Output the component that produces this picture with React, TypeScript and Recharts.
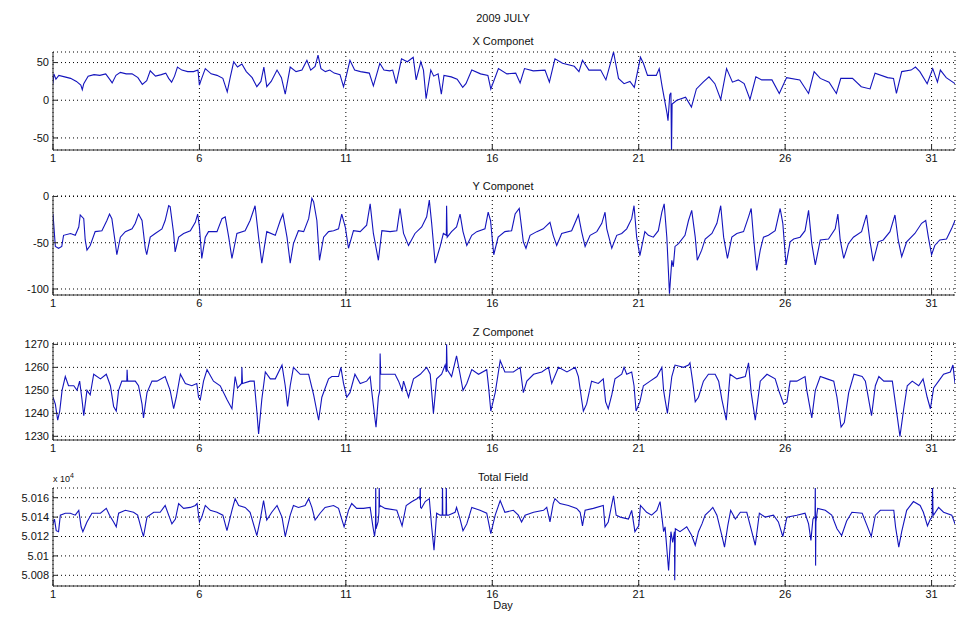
import React from 'react';
import { LineChart, Line, XAxis, YAxis, CartesianGrid } from 'recharts';

const FONT = '"Liberation Sans", Arial, Helvetica, sans-serif';

const dayTicks = [1, 6, 11, 16, 21, 26, 31];
const xTicks = [-50, 0, 50];
const yTicks = [-100, -50, 0];
const zTicks = [1230, 1240, 1250, 1260, 1270];
const fTicks = [50080, 50100, 50120, 50140, 50160];

// [day, nT]
const xComponent: [number, number][] = [
  [1.0, 22], [1.03, 35], [1.1, 28], [1.2, 33], [1.4, 31], [1.6, 29], [1.8, 25], [1.95, 20], [2.0, 14], [2.05, 22],
  [2.2, 32], [2.4, 34], [2.6, 33], [2.8, 35], [2.95, 27], [3.02, 23], [3.15, 33], [3.3, 37], [3.5, 35], [3.7, 35],
  [3.9, 30], [4.05, 21], [4.2, 26], [4.32, 39], [4.5, 32], [4.7, 34], [4.85, 36], [4.95, 29], [5.05, 24], [5.15, 32],
  [5.25, 44], [5.4, 40], [5.6, 38], [5.8, 38], [5.95, 40], [6.0, 20], [6.05, 26], [6.2, 42], [6.4, 35], [6.6, 33],
  [6.8, 29], [6.95, 11], [7.05, 30], [7.17, 51], [7.3, 44], [7.45, 48], [7.6, 38], [7.8, 30], [7.96, 18], [8.1, 25],
  [8.2, 44], [8.3, 18], [8.45, 25], [8.65, 40], [8.8, 30], [8.93, 8], [9.1, 44], [9.3, 38], [9.5, 40], [9.67, 53],
  [9.8, 40], [9.95, 45], [10.05, 60], [10.15, 42], [10.3, 38], [10.45, 40], [10.6, 36], [10.8, 34], [10.92, 18], [11.0, 30],
  [11.14, 53], [11.3, 40], [11.5, 38], [11.8, 36], [11.94, 19], [12.16, 49], [12.3, 40], [12.5, 39], [12.6, 40], [12.72, 22],
  [12.9, 55], [13.1, 51], [13.3, 57], [13.4, 27], [13.56, 51], [13.65, 40], [13.74, 2], [13.9, 40], [14.0, 32], [14.15, 35],
  [14.26, 8], [14.35, 33], [14.6, 31], [14.8, 28], [14.99, 17], [15.1, 22], [15.3, 40], [15.6, 35], [15.85, 33], [15.95, 15],
  [16.21, 42], [16.5, 35], [16.8, 36], [16.95, 23], [17.1, 42], [17.4, 39], [17.8, 40], [17.95, 24], [18.14, 55], [18.4, 49],
  [18.8, 45], [18.96, 38], [19.08, 53], [19.3, 40], [19.7, 40], [19.88, 27], [20.14, 64], [20.31, 29], [20.5, 22], [20.7, 25],
  [20.85, 17], [21.06, 57], [21.16, 49], [21.3, 33], [21.6, 33], [21.7, 42], [21.8, 18], [21.97, -18], [22.0, -27], [22.06, 7],
  [22.1, 10], [22.12, -70], [22.14, -5], [22.3, 0], [22.6, 4], [22.8, -9], [22.97, 15], [23.2, 24], [23.4, 31], [23.6, 22],
  [23.8, 1], [24.0, 42], [24.2, 24], [24.4, 27], [24.6, 22], [24.8, 1], [25.0, 31], [25.2, 27], [25.55, 27], [25.8, 9],
  [26.05, 30], [26.5, 27], [26.8, 9], [26.99, 38], [27.2, 29], [27.5, 24], [27.75, 9], [27.9, 29], [28.3, 29], [28.6, 18],
  [28.9, 15], [29.07, 36], [29.5, 30], [29.7, 29], [29.8, 9], [29.98, 38], [30.3, 40], [30.45, 44], [30.6, 38], [30.85, 22],
  [31.04, 42], [31.2, 24], [31.3, 40], [31.5, 30], [31.8, 22],
];

const yComponent: [number, number][] = [
  [1.0, -19], [1.08, -54], [1.19, -56], [1.3, -54], [1.36, -42], [1.6, -40], [1.76, -42], [1.88, -33], [1.93, -20], [2.05, -24],
  [2.1, -47], [2.16, -58], [2.27, -53], [2.44, -38], [2.67, -37], [2.84, -26], [2.93, -19], [3.01, -24], [3.13, -51], [3.18, -63],
  [3.3, -44], [3.47, -38], [3.7, -35], [3.81, -29], [3.92, -19], [4.04, -26], [4.15, -56], [4.2, -63], [4.32, -44], [4.49, -40],
  [4.72, -35], [4.83, -26], [4.95, -10], [5.0, -11], [5.12, -40], [5.17, -60], [5.29, -44], [5.46, -40], [5.69, -37], [5.86, -28],
  [5.94, -19], [6.0, -33], [6.08, -67], [6.2, -44], [6.31, -38], [6.6, -38], [6.77, -24], [6.88, -22], [7.0, -44], [7.11, -67],
  [7.28, -40], [7.56, -37], [7.73, -26], [7.9, -10], [8.02, -44], [8.13, -72], [8.3, -38], [8.59, -42], [8.76, -26], [8.85, -19],
  [8.99, -44], [9.1, -72], [9.21, -51], [9.38, -37], [9.56, -38], [9.73, -24], [9.84, -2], [9.9, -6], [10.01, -26], [10.1, -69],
  [10.24, -44], [10.41, -38], [10.58, -37], [10.75, -35], [10.86, -19], [10.98, -33], [11.09, -56], [11.26, -37], [11.49, -38], [11.71, -31],
  [11.83, -8], [11.94, -40], [12.11, -69], [12.23, -37], [12.51, -38], [12.74, -37], [12.85, -13], [12.97, -40], [13.14, -53], [13.36, -40],
  [13.59, -33], [13.76, -22], [13.85, -4], [13.93, -29], [14.05, -72], [14.22, -54], [14.33, -40], [14.43, -42], [14.44, -10], [14.46, -44],
  [14.61, -38], [14.78, -33], [14.9, -19], [15.0, -38], [15.13, -53], [15.3, -42], [15.47, -38], [15.75, -35], [15.86, -17], [15.94, -26],
  [16.05, -63], [16.2, -44], [16.43, -38], [16.66, -37], [16.78, -19], [16.92, -13], [17.06, -49], [17.15, -56], [17.29, -42], [17.52, -38],
  [17.74, -35], [17.97, -28], [18.08, -42], [18.2, -53], [18.37, -40], [18.71, -37], [18.94, -20], [19.05, -38], [19.17, -54], [19.34, -42],
  [19.57, -38], [19.74, -29], [19.85, -17], [19.91, -35], [20.08, -56], [20.25, -42], [20.42, -40], [20.59, -35], [20.76, -24], [20.84, -10],
  [20.93, -44], [21.04, -64], [21.21, -38], [21.33, -42], [21.5, -44], [21.67, -37], [21.79, -17], [21.87, -8], [21.96, -44], [22.05, -105],
  [22.13, -69], [22.18, -76], [22.24, -54], [22.36, -51], [22.58, -42], [22.7, -26], [22.81, -15], [22.93, -44], [23.0, -69], [23.15, -58],
  [23.27, -46], [23.5, -40], [23.67, -29], [23.8, -10], [23.9, -44], [24.03, -67], [24.18, -44], [24.35, -40], [24.58, -38], [24.75, -22],
  [24.84, -13], [24.92, -44], [25.03, -80], [25.15, -58], [25.26, -44], [25.43, -42], [25.66, -37], [25.83, -13], [25.92, -29], [26.03, -74],
  [26.17, -49], [26.29, -46], [26.51, -44], [26.68, -37], [26.8, -15], [26.91, -51], [27.03, -74], [27.2, -47], [27.48, -46], [27.71, -35],
  [27.8, -19], [27.88, -47], [28.0, -67], [28.16, -51], [28.33, -44], [28.61, -38], [28.78, -20], [28.9, -49], [29.01, -70], [29.18, -49],
  [29.35, -47], [29.58, -38], [29.75, -20], [29.86, -47], [29.98, -65], [30.15, -49], [30.43, -40], [30.66, -29], [30.8, -26], [30.89, -44],
  [31.0, -63], [31.11, -53], [31.28, -47], [31.51, -46], [31.68, -35], [31.8, -26],
];

const zComponent: [number, number][] = [
  [1.0, 1247], [1.08, 1244], [1.16, 1237], [1.23, 1241], [1.31, 1250], [1.42, 1256], [1.53, 1252], [1.71, 1252], [1.82, 1250], [1.91, 1254],
  [1.99, 1246], [2.05, 1239], [2.16, 1250], [2.27, 1248], [2.39, 1257], [2.62, 1255], [2.82, 1257], [2.96, 1252], [3.07, 1243], [3.16, 1241],
  [3.24, 1250], [3.35, 1254], [3.52, 1254], [3.53, 1259], [3.55, 1254], [3.81, 1254], [3.92, 1252], [4.04, 1244], [4.09, 1238], [4.21, 1249],
  [4.38, 1254], [4.55, 1254], [4.83, 1256], [5.0, 1250], [5.12, 1242], [5.21, 1247], [5.35, 1257], [5.52, 1253], [5.74, 1252], [5.91, 1253],
  [5.97, 1247], [6.03, 1246], [6.14, 1254], [6.26, 1259], [6.48, 1254], [6.71, 1252], [6.94, 1246], [7.11, 1242], [7.22, 1256], [7.3, 1251],
  [7.44, 1253], [7.45, 1260], [7.47, 1253], [7.73, 1254], [7.87, 1254], [7.96, 1241], [8.02, 1231], [8.13, 1246], [8.25, 1258], [8.42, 1255],
  [8.59, 1255], [8.82, 1261], [8.93, 1252], [9.01, 1243], [9.1, 1252], [9.21, 1260], [9.44, 1257], [9.73, 1257], [9.9, 1248], [10.07, 1237],
  [10.18, 1247], [10.41, 1255], [10.52, 1256], [10.75, 1256], [10.83, 1260], [10.92, 1253], [11.03, 1247], [11.14, 1249], [11.31, 1257], [11.49, 1253],
  [11.71, 1254], [11.83, 1256], [11.88, 1250], [12.0, 1237], [12.03, 1234], [12.11, 1247], [12.16, 1250], [12.17, 1266], [12.19, 1257], [12.51, 1257],
  [12.68, 1257], [12.8, 1254], [12.92, 1250], [12.97, 1254], [13.14, 1247], [13.31, 1255], [13.54, 1257], [13.76, 1260], [13.88, 1257], [13.99, 1240],
  [14.1, 1255], [14.27, 1257], [14.39, 1261], [14.43, 1258], [14.44, 1270], [14.46, 1259], [14.61, 1256], [14.78, 1265], [14.9, 1257], [15.0, 1250],
  [15.13, 1253], [15.3, 1259], [15.53, 1257], [15.81, 1259], [15.87, 1252], [15.95, 1241], [16.1, 1249], [16.27, 1263], [16.43, 1258], [16.72, 1258],
  [16.95, 1260], [17.06, 1249], [17.18, 1254], [17.41, 1257], [17.69, 1258], [17.92, 1260], [18.03, 1253], [18.26, 1260], [18.55, 1258], [18.83, 1260],
  [18.94, 1256], [19.05, 1246], [19.11, 1241], [19.22, 1244], [19.39, 1254], [19.62, 1253], [19.79, 1255], [19.87, 1245], [19.96, 1242], [20.08, 1248],
  [20.19, 1255], [20.42, 1257], [20.5, 1260], [20.59, 1257], [20.76, 1258], [20.84, 1252], [20.91, 1241], [21.04, 1245], [21.16, 1252], [21.39, 1254],
  [21.62, 1256], [21.79, 1260], [21.85, 1250], [21.9, 1246], [21.98, 1240], [22.13, 1256], [22.24, 1261], [22.53, 1260], [22.7, 1261], [22.75, 1262],
  [22.84, 1254], [22.93, 1245], [23.04, 1247], [23.21, 1254], [23.38, 1257], [23.61, 1257], [23.73, 1254], [23.84, 1246], [23.99, 1237], [24.12, 1257],
  [24.35, 1255], [24.64, 1256], [24.75, 1262], [24.84, 1249], [24.98, 1237], [25.15, 1254], [25.38, 1257], [25.66, 1255], [25.78, 1250], [25.95, 1244],
  [26.06, 1245], [26.17, 1254], [26.4, 1254], [26.68, 1256], [26.74, 1250], [26.91, 1238], [27.03, 1250], [27.2, 1256], [27.43, 1255], [27.66, 1254],
  [27.77, 1247], [27.91, 1234], [28.02, 1236], [28.17, 1249], [28.35, 1257], [28.63, 1256], [28.74, 1254], [28.95, 1239], [29.08, 1252], [29.2, 1256],
  [29.37, 1254], [29.66, 1254], [29.77, 1244], [29.92, 1230], [30.05, 1242], [30.17, 1252], [30.34, 1254], [30.56, 1252], [30.71, 1255], [30.85, 1247],
  [30.96, 1242], [31.07, 1251], [31.24, 1254], [31.41, 1257], [31.64, 1258], [31.73, 1261], [31.8, 1253],
];

const totalField: [number, number][] = [
  [1.0, 50133], [1.05, 50138], [1.11, 50126], [1.19, 50125], [1.25, 50142], [1.42, 50144], [1.59, 50144], [1.76, 50142], [1.88, 50147], [1.96, 50130],
  [2.02, 50125], [2.16, 50135], [2.33, 50144], [2.62, 50144], [2.82, 50149], [2.93, 50142], [3.07, 50135], [3.16, 50130], [3.24, 50144], [3.47, 50147],
  [3.75, 50145], [3.89, 50142], [4.04, 50125], [4.09, 50120], [4.21, 50140], [4.44, 50145], [4.66, 50145], [4.83, 50152], [4.95, 50142], [5.06, 50133],
  [5.18, 50138], [5.29, 50154], [5.46, 50149], [5.69, 50150], [5.86, 50152], [5.92, 50154], [6.0, 50135], [6.08, 50140], [6.2, 50152], [6.37, 50147],
  [6.6, 50145], [6.8, 50142], [6.94, 50126], [7.11, 50147], [7.22, 50159], [7.34, 50152], [7.56, 50150], [7.73, 50145], [7.96, 50121], [8.08, 50138],
  [8.19, 50157], [8.3, 50137], [8.47, 50145], [8.65, 50152], [8.82, 50140], [8.93, 50120], [9.1, 50142], [9.21, 50152], [9.38, 50150], [9.61, 50152],
  [9.73, 50159], [9.84, 50150], [9.95, 50137], [10.12, 50144], [10.29, 50150], [10.58, 50152], [10.75, 50149], [10.86, 50138], [10.94, 50130], [11.09, 50147],
  [11.2, 50154], [11.37, 50149], [11.6, 50149], [11.83, 50150], [11.92, 50131], [11.98, 50120], [12.01, 50128], [12.02, 50175], [12.03, 50128], [12.1, 50135],
  [12.13, 50145], [12.14, 50175], [12.15, 50150], [12.17, 50152], [12.34, 50149], [12.74, 50147], [12.92, 50131], [13.06, 50152], [13.26, 50156], [13.43, 50159],
  [13.51, 50161], [13.53, 50158], [13.54, 50175], [13.55, 50150], [13.58, 50149], [13.71, 50156], [13.85, 50159], [13.93, 50130], [14.01, 50106], [14.1, 50144],
  [14.22, 50142], [14.29, 50142], [14.3, 50175], [14.31, 50142], [14.42, 50142], [14.43, 50175], [14.44, 50142], [14.5, 50142], [14.73, 50145], [14.78, 50150],
  [14.9, 50138], [15.0, 50126], [15.13, 50133], [15.3, 50150], [15.58, 50147], [15.81, 50144], [15.95, 50123], [16.1, 50142], [16.27, 50157], [16.43, 50145],
  [16.72, 50147], [16.89, 50142], [17.0, 50135], [17.12, 50142], [17.41, 50145], [17.75, 50147], [17.86, 50150], [17.97, 50135], [18.08, 50154], [18.14, 50159],
  [18.31, 50154], [18.6, 50152], [18.88, 50149], [19.0, 50145], [19.08, 50131], [19.17, 50147], [19.45, 50149], [19.79, 50152], [19.85, 50130], [19.96, 50135],
  [20.14, 50162], [20.23, 50142], [20.37, 50140], [20.65, 50138], [20.76, 50147], [20.87, 50125], [21.0, 50131], [21.06, 50152], [21.27, 50145], [21.44, 50142],
  [21.62, 50147], [21.73, 50156], [21.85, 50125], [21.9, 50130], [22.02, 50085], [22.1, 50125], [22.16, 50114], [22.22, 50125], [22.23, 50075], [22.25, 50128],
  [22.41, 50125], [22.64, 50130], [22.81, 50121], [22.93, 50111], [23.04, 50125], [23.16, 50133], [23.27, 50142], [23.44, 50147], [23.53, 50150], [23.67, 50142],
  [23.84, 50121], [23.93, 50109], [24.04, 50131], [24.14, 50147], [24.3, 50138], [24.47, 50145], [24.69, 50145], [24.81, 50131], [24.98, 50111], [25.12, 50144],
  [25.32, 50140], [25.6, 50142], [25.77, 50135], [25.92, 50120], [26.06, 50140], [26.4, 50142], [26.68, 50144], [26.8, 50133], [26.88, 50116], [26.95, 50138],
  [27.02, 50140], [27.03, 50175], [27.04, 50090], [27.05, 50135], [27.11, 50149], [27.37, 50147], [27.59, 50142], [27.77, 50128], [27.93, 50121], [28.1, 50136],
  [28.28, 50145], [28.63, 50144], [28.8, 50131], [28.94, 50120], [29.08, 50142], [29.25, 50147], [29.71, 50147], [29.77, 50130], [29.88, 50109], [29.98, 50125],
  [30.15, 50147], [30.38, 50156], [30.61, 50152], [30.72, 50145], [30.86, 50131], [30.96, 50138], [31.02, 50140], [31.03, 50175], [31.05, 50145], [31.07, 50142],
  [31.24, 50150], [31.41, 50145], [31.69, 50142], [31.8, 50133],
];

const toRows = (pairs: [number, number][]) => pairs.map(([d, v]) => ({ d, v }));

const fmtField = (v: number) => (v / 1e4).toFixed(3).replace(/0+$/, '');

const AXIS = '#2a2a2a';
const LINE = '#1414bd';
const tickStyle = { fontSize: 11, fill: '#111', fontFamily: FONT };
const PAD = 8;

type PanelProps = {
  top: number;
  plotHeight: number;
  data: { d: number; v: number }[];
  domain: [number, number];
  ticks: number[];
  fmt?: (v: number) => string;
};

function Panel({ top, plotHeight, data, domain, ticks, fmt }: PanelProps) {
  return (
    <div style={{ position: 'absolute', left: 0, top: top - PAD }}>
      <LineChart width={974} height={plotHeight + 22 + PAD} data={data} margin={{ top: PAD, right: 19, bottom: 0, left: 0 }}>
        <CartesianGrid xAxisId="b" yAxisId="l" stroke="#000" strokeDasharray="1 3" strokeWidth={1} />
        <XAxis
          xAxisId="b"
          dataKey="d"
          type="number"
          domain={[1, 31.8]}
          ticks={dayTicks}
          allowDataOverflow
          interval={0}
          height={22}
          tickSize={-6}
          tickMargin={10}
          tick={tickStyle}
          stroke={AXIS}
        />
        <XAxis
          xAxisId="t"
          orientation="top"
          dataKey="d"
          type="number"
          domain={[1, 31.8]}
          ticks={dayTicks}
          allowDataOverflow
          interval={0}
          height={0}
          tickSize={-6}
          tick={false}
          stroke={AXIS}
        />
        <YAxis
          yAxisId="l"
          type="number"
          domain={domain}
          ticks={ticks}
          allowDataOverflow
          interval={0}
          width={53}
          tickSize={-5}
          tickMargin={9}
          tick={tickStyle}
          tickFormatter={fmt}
          stroke={AXIS}
        />
        <YAxis
          yAxisId="r"
          orientation="right"
          type="number"
          domain={domain}
          ticks={ticks}
          allowDataOverflow
          interval={0}
          width={0}
          tickSize={-5}
          tick={false}
          stroke={AXIS}
        />
        <Line
          xAxisId="b"
          yAxisId="l"
          dataKey="v"
          type="linear"
          stroke={LINE}
          strokeWidth={1.1}
          dot={false}
          isAnimationActive={false}
        />
      </LineChart>
    </div>
  );
}

const label = (text: React.ReactNode, x: number, y: number, size = 11) => (
  <div
    style={{
      position: 'absolute',
      left: x,
      top: y,
      transform: 'translate(-50%, -50%)',
      fontFamily: FONT,
      fontSize: size,
      color: '#111',
      whiteSpace: 'nowrap',
      lineHeight: 1,
    }}
  >
    {text}
  </div>
);

export default function App() {
  return (
    <div style={{ position: 'absolute', left: 0, top: 0, width: 974, height: 623, background: '#fff', overflow: 'hidden' }}>
      <Panel top={52} plotHeight={98} data={toRows(xComponent)} domain={[-66, 64]} ticks={xTicks} />
      <Panel top={196} plotHeight={99} data={toRows(yComponent)} domain={[-106.5, 0.5]} ticks={yTicks} />
      <Panel top={343} plotHeight={97} data={toRows(zComponent)} domain={[1228.4, 1270.6]} ticks={zTicks} />
      <Panel top={488} plotHeight={98} data={toRows(totalField)} domain={[50069, 50170]} ticks={fTicks} fmt={fmtField} />
      {label('2009 JULY', 503, 18)}
      {label('X Componet', 503, 41)}
      {label('Y Componet', 503, 186)}
      {label('Z Componet', 503, 332)}
      {label('Total Field', 503, 477)}
      {label('Day', 503, 605)}
      <div style={{ position: 'absolute', left: 53, top: 475, fontFamily: FONT, fontSize: 9, lineHeight: 1, color: '#111' }}>
        x 10<sup style={{ fontSize: 7, verticalAlign: 'top', position: 'relative', top: -3 }}>4</sup>
      </div>
    </div>
  );
}
